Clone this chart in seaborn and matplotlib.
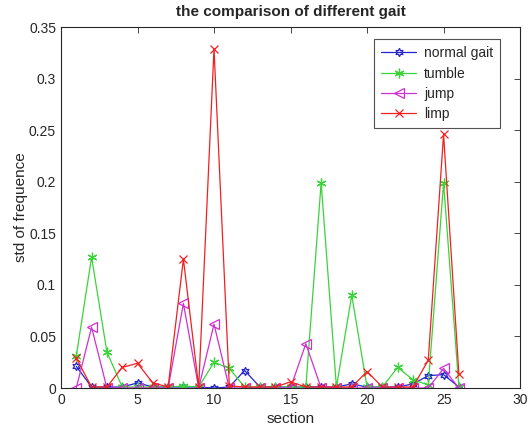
import numpy as np
import pandas as pd
import matplotlib
matplotlib.use("Agg")
import matplotlib.pyplot as plt
import seaborn as sns

# data
sections = list(range(1, 27))
normal_gait = [0.021, 0.001, 0.001, 0.001, 0.005, 0.001, 0.001, 0.001, 0.001, 0.000,
               0.001, 0.017, 0.001, 0.001, 0.001, 0.001, 0.001, 0.001, 0.004, 0.001,
               0.001, 0.001, 0.004, 0.012, 0.013, 0.001]
tumble = [0.031, 0.127, 0.035, 0.001, 0.001, 0.001, 0.001, 0.002, 0.001, 0.025,
          0.019, 0.001, 0.001, 0.001, 0.001, 0.001, 0.199, 0.001, 0.090, 0.001,
          0.001, 0.020, 0.008, 0.003, 0.199, 0.001]
jump = [0.000, 0.059, 0.000, 0.000, 0.000, 0.000, 0.000, 0.082, 0.000, 0.062,
        0.000, 0.000, 0.000, 0.000, 0.000, 0.043, 0.000, 0.000, 0.000, 0.000,
        0.000, 0.000, 0.000, 0.000, 0.019, 0.000]
limp = [0.029, 0.001, 0.001, 0.020, 0.024, 0.005, 0.001, 0.125, 0.001, 0.329,
        0.002, 0.001, 0.001, 0.001, 0.006, 0.001, 0.001, 0.001, 0.001, 0.016,
        0.001, 0.001, 0.001, 0.027, 0.246, 0.014]

# name: values, colour, marker, marker size
series = {
    "normal gait": (normal_gait, "#2424d0", (6, 1, 0), 6),
    "tumble": (tumble, "#3ad43a", (6, 2, 0), 7),
    "jump": (jump, "#d030d0", "<", 7),
    "limp": (limp, "#f02020", "x", 6),
}

sns.set_style("white")
plt.rcParams['font.family'] = ['Liberation Sans', 'DejaVu Sans']

fig = plt.figure(figsize=(5.28, 4.36), dpi=100)
ax = fig.add_axes([0.1155, 0.110, 0.8695, 0.828])

for name, (vals, col, mk, ms) in series.items():
    df = pd.DataFrame({"section": sections, "value": vals})
    sns.lineplot(data=df, x="section", y="value", ax=ax, color=col, marker=mk,
                 markersize=ms, markerfacecolor="none", markeredgecolor=col,
                 markeredgewidth=0.9, linewidth=0.9, label=name)

ax.set_xlim(0, 30)
ax.set_ylim(0, 0.35)
ax.set_xticks(np.arange(0, 31, 5))
ax.set_yticks(np.arange(0, 0.351, 0.05))
ax.set_yticklabels(["0", "0.05", "0.1", "0.15", "0.2", "0.25", "0.3", "0.35"])
ax.tick_params(direction="in", length=4, top=True, right=True, labelsize=10,
               colors="#262626", width=0.6)
for s in ax.spines.values():
    s.set_color("#262626")
    s.set_linewidth(0.8)

ax.set_title("the comparison of different gait", fontsize=11, fontweight="bold", pad=8)
ax.set_xlabel("section", fontsize=11, color="#262626")
ax.set_ylabel("std of frequence", fontsize=11, color="#262626", labelpad=1)

leg = ax.legend(loc="upper right", bbox_to_anchor=(0.972, 0.985), fontsize=10,
                frameon=True, fancybox=False, edgecolor="#262626",
                handlelength=2.5, handletextpad=0.6, borderpad=0.5, labelspacing=0.45)
leg.get_frame().set_linewidth(0.8)

fig.savefig("out.png", dpi=100)
